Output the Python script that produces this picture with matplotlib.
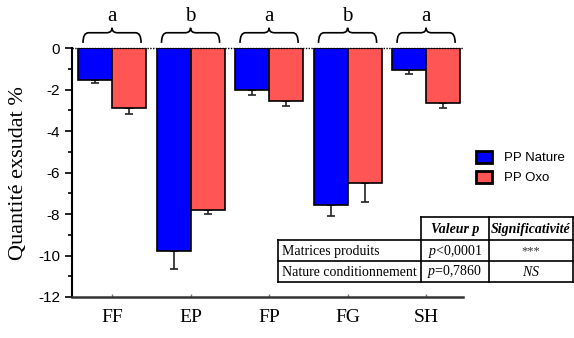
import numpy as np
from matplotlib import pyplot as plt
from matplotlib.patches import Patch, PathPatch
from matplotlib.path import Path

plt.rcParams['mathtext.fontset'] = 'custom'
plt.rcParams['mathtext.it'] = 'Liberation Serif:italic'
plt.rcParams['mathtext.rm'] = 'Liberation Serif'

# Data
groups = ["FF", "EP", "FP", "FG", "SH"]
letters = ["a", "b", "a", "b", "a"]
nature = [-1.55, -9.8, -2.0, -7.55, -1.07]
nature_err = [0.14, 0.85, 0.27, 0.52, 0.18]
oxo = [-2.88, -7.8, -2.55, -6.48, -2.62]
oxo_err = [0.29, 0.18, 0.21, 0.95, 0.28]

table_cols = ["Valeur p", "Significativité"]
table_rows = ["Matrices produits", "Nature conditionnement"]
table_pvals = [r"$p$<0,0001", r"$p$=0,7860"]
table_signif = ["***", "$NS$"]

fig = plt.figure(figsize=(5.74, 3.38), dpi=100)
ax = fig.add_axes([72/574, 41/338, 391/574, 248.7/338])

x = np.arange(len(groups))
w = 0.433
blue = "#0000ff"
red = "#ff5555"

ax.bar(x - w/2, nature, w, color=blue, edgecolor="black", linewidth=1.2, zorder=3)
ax.bar(x + w/2, oxo, w, color=red, edgecolor="black", linewidth=1.2, zorder=3)
zeros = np.zeros(len(groups))
ax.errorbar(x - w/2, nature, yerr=[nature_err, zeros], fmt="none", ecolor="#222222",
            elinewidth=1.2, capsize=3, capthick=1.2, zorder=2)
ax.errorbar(x + w/2, oxo, yerr=[oxo_err, zeros], fmt="none", ecolor="#222222",
            elinewidth=1.2, capsize=3, capthick=1.2, zorder=2)

ax.axhline(0, color="black", ls=(0, (1, 1)), lw=1, zorder=4, clip_on=False)

ax.set_xlim(-0.51, 4.47)
ax.set_ylim(-12, 0)
ax.spines["top"].set_visible(False)
ax.spines["right"].set_visible(False)
ax.spines["left"].set_linewidth(1.5)
ax.spines["bottom"].set_linewidth(1.8)
ax.spines["bottom"].set_color("#333333")

ax.set_yticks(np.arange(-12, 1, 2))
ax.set_yticks(np.arange(-11, 0, 2), minor=True)
ax.set_yticklabels([str(v) for v in range(-12, 1, 2)], family="Liberation Sans", fontsize=11)
ax.tick_params(axis="y", which="major", length=5, width=1.2)
ax.tick_params(axis="y", which="minor", length=3, width=1.2)
ax.set_xticks(x)
ax.set_xticklabels(groups, family="Liberation Serif", fontsize=14)
ax.tick_params(axis="x", direction="in", length=2, width=1, color="#777777", pad=9)
ax.set_ylabel("Quantité exsudat %", family="Liberation Serif", fontsize=16, labelpad=7)

# braces and letters above each group
h, r = 0.37, 0.07
y0, ym, yt = 0.26, 0.75, 0.99
for c, lt in zip(x, letters):
    x1, x2 = c - h, c + h
    verts = [(x1, y0), (x1, ym), (x1 + r, ym), (c - r, ym), (c, ym), (c, yt),
             (c, ym), (c + r, ym), (x2 - r, ym), (x2, ym), (x2, y0)]
    codes = [Path.MOVETO, Path.CURVE3, Path.CURVE3, Path.LINETO, Path.CURVE3, Path.CURVE3,
             Path.CURVE3, Path.CURVE3, Path.LINETO, Path.CURVE3, Path.CURVE3]
    ax.add_patch(PathPatch(Path(verts, codes), fill=False, lw=1.2, color="black", clip_on=False))
    ax.text(c, 1.3, lt, ha="center", va="baseline", family="Liberation Serif", fontsize=15,
            clip_on=False)

handles = [Patch(facecolor=blue, edgecolor="black", lw=2), Patch(facecolor=red, edgecolor="black", lw=2)]
fig.legend(handles, ["PP Nature", "PP Oxo"], loc="upper left", bbox_to_anchor=(476/574, 1 - 151/338),
           frameon=False, prop={"family": "Liberation Sans", "size": 9.5}, handlelength=1.2,
           handleheight=1.0, handletextpad=0.9, labelspacing=0.5, borderpad=0, borderaxespad=0)

# statistics table
tab = fig.add_axes([278/574, 56/338, 295/574, 65/338])
tab.set_xlim(0, 295)
tab.set_ylim(65, 0)
tab.axis("off")
col_edges = [0, 143, 211, 295]
row_edges = [0, 23, 44, 65]
lk = dict(color="black", lw=1.2, clip_on=False)
tab.plot([col_edges[1], col_edges[3]], [0, 0], **lk)
for ye in row_edges[1:]:
    tab.plot([0, 295], [ye, ye], **lk)
for xe in col_edges[1:]:
    tab.plot([xe, xe], [0, 65], **lk)
tab.plot([0, 0], [row_edges[1], 65], **lk)

for j, lab in enumerate(table_cols):
    tab.text((col_edges[j + 1] + col_edges[j + 2]) / 2, row_edges[0] + 12, lab, ha="center", va="center",
             family="Liberation Serif", style="italic", weight="bold", fontsize=10)
for i in range(len(table_rows)):
    yc = (row_edges[i + 1] + row_edges[i + 2]) / 2 + 0.5
    tab.text(4, yc, table_rows[i], ha="left", va="center", family="Liberation Serif", fontsize=10)
    tab.text((col_edges[1] + col_edges[2]) / 2, yc, table_pvals[i], ha="center", va="center",
             family="Liberation Serif", fontsize=10)
    tab.text((col_edges[2] + col_edges[3]) / 2, yc, table_signif[i], ha="center", va="center",
             family="Liberation Serif", fontsize=9 if i == 0 else 10, color="#333333" if i == 0 else "black")

fig.savefig("out.png", dpi=100)
